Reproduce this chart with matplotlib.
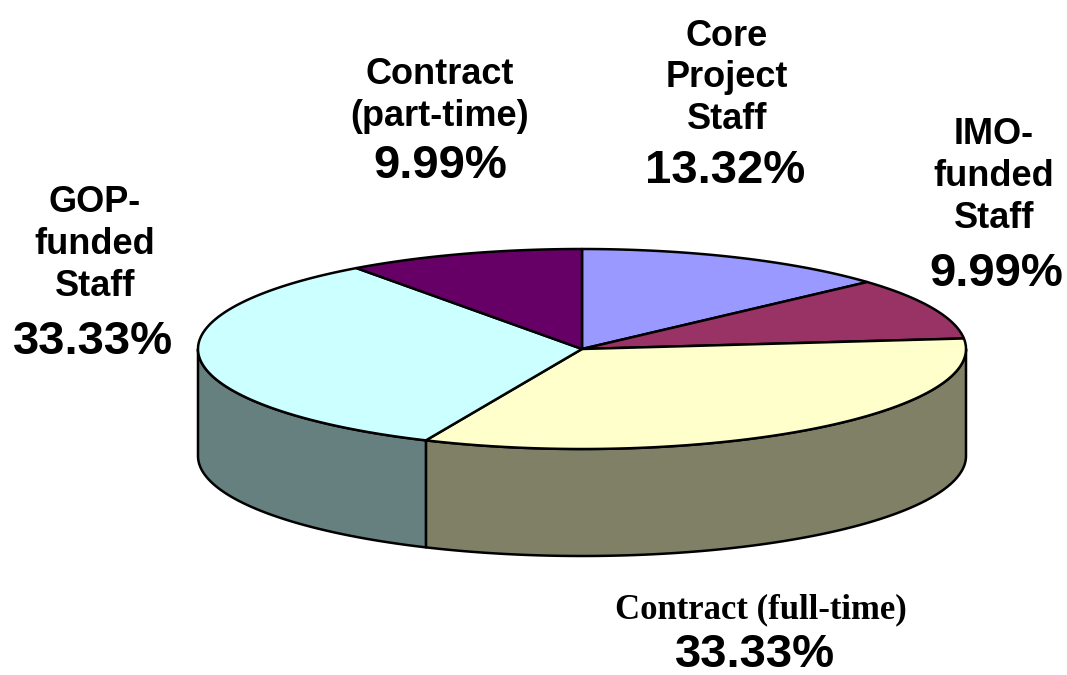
import numpy as np
import matplotlib
matplotlib.use("Agg")
import matplotlib.pyplot as plt
from matplotlib.patches import Polygon
from matplotlib.colors import to_rgb

# data
categories = ["Core\nProject\nStaff", "IMO-\nfunded\nStaff", "Contract (full-time)",
              "GOP-\nfunded\nStaff", "Contract\n(part-time)"]
values = [13.32, 9.99, 33.33, 33.33, 9.99]
pct_labels = ["13.32%", "9.99%", "33.33%", "33.33%", "9.99%"]
colors = ["#9999FF", "#993366", "#FFFFCC", "#CCFFFF", "#660066"]

# layout (pixel space of the 1067x675 canvas)
cx, cy = 582, 349      # centre of the top ellipse
a, b = 384, 100        # semi axes
depth = 107            # thickness of the pie
# (x name, name bottom, x pct, pct baseline, serif name?)
label_pos = [
    (727, 137, 725, 183, False),
    (994, 236, 996, 286, False),
    (761, 618, 755, 667, True),
    (95, 304, 93, 354, False),
    (440, 134, 440, 178, False),
]

fig = plt.figure(figsize=(10.67, 6.75), dpi=100)
ax = fig.add_axes([0, 0, 1, 1])
ax.set_xlim(0, 1067)
ax.set_ylim(675, 0)
ax.axis("off")


def pt(theta, dz=0):
    t = np.radians(theta)
    return cx + a * np.sin(t), cy - b * np.cos(t) + dz


frac = np.array(values) / np.sum(values)
edges = np.concatenate([[0], np.cumsum(frac) * 360])

# front walls first
for i in range(len(values)):
    lo, hi = max(edges[i], 90), min(edges[i + 1], 270)
    if lo >= hi:
        continue
    ts = np.linspace(lo, hi, 120)
    top = [pt(t) for t in ts]
    bot = [pt(t, depth) for t in ts[::-1]]
    side = tuple(c * 0.5 for c in to_rgb(colors[i]))
    ax.add_patch(Polygon(top + bot, closed=True, facecolor=side,
                         edgecolor="black", lw=1.8, joinstyle="round"))

# top face
for i in range(len(values)):
    ts = np.linspace(edges[i], edges[i + 1], 200)
    poly = [(cx, cy)] + [pt(t) for t in ts]
    ax.add_patch(Polygon(poly, closed=True, facecolor=colors[i],
                         edgecolor="black", lw=1.8, joinstyle="round"))

# labels
for name, pct, (xn, yn, xp, yp, serif) in zip(categories, pct_labels, label_pos):
    if serif:
        ax.text(xn, yn, name, ha="center", va="baseline", fontsize=25,
                fontweight="bold", family="Liberation Serif")
    else:
        ax.text(xn, yn, name, ha="center", va="bottom", fontsize=26,
                fontweight="bold", family="Liberation Sans",
                linespacing=1.25, multialignment="center")
    ax.text(xp, yp, pct, ha="center", va="baseline", fontsize=34,
            fontweight="bold", family="Liberation Sans")

fig.savefig("out.png", dpi=100)
